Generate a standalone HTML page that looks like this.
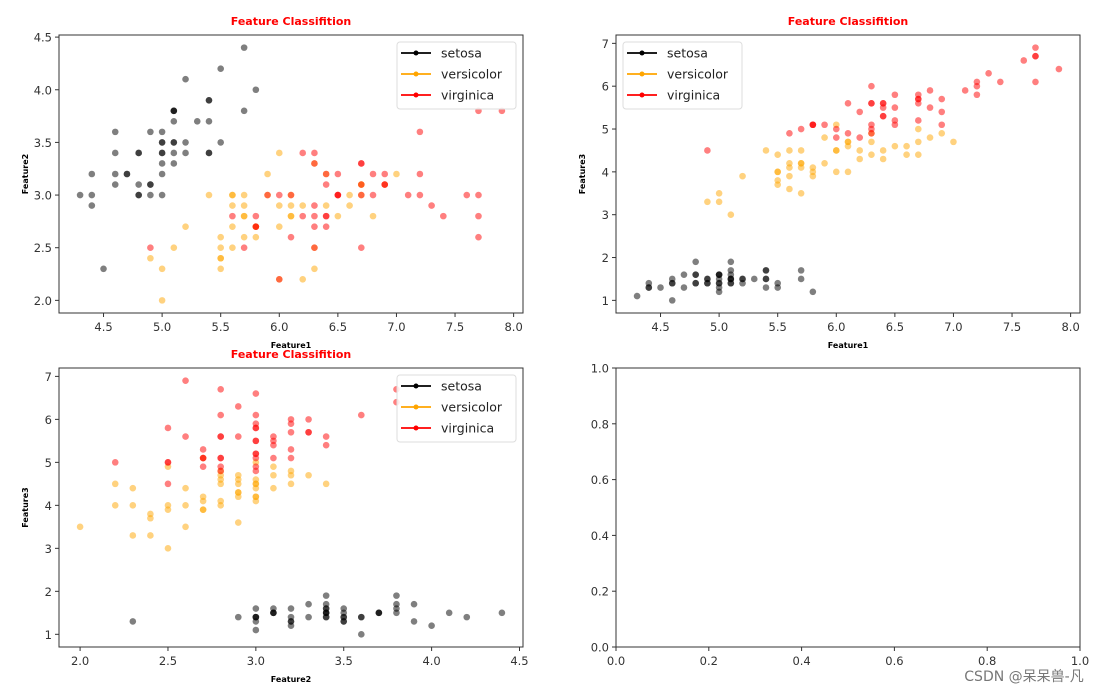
<!DOCTYPE html>
<html><head><meta charset="utf-8"><style>
body{margin:0;background:#fff;}
svg text{font-family:"DejaVu Sans","Liberation Sans",sans-serif;}
</style></head><body>
<svg id="fig" width="1115" height="693" xmlns="http://www.w3.org/2000/svg">
<rect width="1115" height="693" fill="#fff"/>
<text x="1024" y="681" font-size="14" fill="#777" text-anchor="middle" font-family="'Liberation Sans','Noto Sans CJK SC',sans-serif">CSDN @呆呆兽-凡</text>
</svg>
<script>
const speciesNames = ["setosa","versicolor","virginica"];
const speciesColors = ["black","orange","red"];
const setosaSL=[5.1,4.9,4.7,4.6,5.0,5.4,4.6,5.0,4.4,4.9,5.4,4.8,4.8,4.3,5.8,5.7,5.4,5.1,5.7,5.1,5.4,5.1,4.6,5.1,4.8,5.0,5.0,5.2,5.2,4.7,4.8,5.4,5.2,5.5,4.9,5.0,5.5,4.9,4.4,5.1,5.0,4.5,4.4,5.0,5.1,4.8,5.1,4.6,5.3,5.0];
const setosaSW=[3.5,3.0,3.2,3.1,3.6,3.9,3.4,3.4,2.9,3.1,3.7,3.4,3.0,3.0,4.0,4.4,3.9,3.5,3.8,3.8,3.4,3.7,3.6,3.3,3.4,3.0,3.4,3.5,3.4,3.2,3.1,3.4,4.1,4.2,3.1,3.2,3.5,3.6,3.0,3.4,3.5,2.3,3.2,3.5,3.8,3.0,3.8,3.2,3.7,3.3];
const setosaPL=[1.4,1.4,1.3,1.5,1.4,1.7,1.4,1.5,1.4,1.5,1.5,1.6,1.4,1.1,1.2,1.5,1.3,1.4,1.7,1.5,1.7,1.5,1.0,1.7,1.9,1.6,1.6,1.5,1.4,1.6,1.6,1.5,1.5,1.4,1.5,1.2,1.3,1.4,1.3,1.5,1.3,1.3,1.3,1.6,1.9,1.4,1.6,1.4,1.5,1.4];
const versiSL=[7.0,6.4,6.9,5.5,6.5,5.7,6.3,4.9,6.6,5.2,5.0,5.9,6.0,6.1,5.6,6.7,5.6,5.8,6.2,5.6,5.9,6.1,6.3,6.1,6.4,6.6,6.8,6.7,6.0,5.7,5.5,5.5,5.8,6.0,5.4,6.0,6.7,6.3,5.6,5.5,5.5,6.1,5.8,5.0,5.6,5.7,5.7,6.2,5.1,5.7];
const versiSW=[3.2,3.2,3.1,2.3,2.8,2.8,3.3,2.4,2.9,2.7,2.0,3.0,2.2,2.9,2.9,3.1,3.0,2.7,2.2,2.5,3.2,2.8,2.5,2.8,2.9,3.0,2.8,3.0,2.9,2.6,2.4,2.4,2.7,2.7,3.0,3.4,3.1,2.3,3.0,2.5,2.6,3.0,2.6,2.3,2.7,3.0,2.9,2.9,2.5,2.8];
const versiPL=[4.7,4.5,4.9,4.0,4.6,4.5,4.7,3.3,4.6,3.9,3.5,4.2,4.0,4.7,3.6,4.4,4.5,4.1,4.5,3.9,4.8,4.0,4.9,4.7,4.3,4.4,4.8,5.0,4.5,3.5,3.8,3.7,3.9,5.1,4.5,4.5,4.7,4.4,4.1,4.0,4.4,4.6,4.0,3.3,4.2,4.2,4.2,4.3,3.0,4.1];
const virgSL=[6.3,5.8,7.1,6.3,6.5,7.6,4.9,7.3,6.7,7.2,6.5,6.4,6.8,5.7,5.8,6.4,6.5,7.7,7.7,6.0,6.9,5.6,7.7,6.3,6.7,7.2,6.2,6.1,6.4,7.2,7.4,7.9,6.4,6.3,6.1,7.7,6.3,6.4,6.0,6.9,6.7,6.9,5.8,6.8,6.7,6.7,6.3,6.5,6.2,5.9];
const virgSW=[3.3,2.7,3.0,2.9,3.0,3.0,2.5,2.9,2.5,3.6,3.2,2.7,3.0,2.5,2.8,3.2,3.0,3.8,2.6,2.2,3.2,2.8,2.8,2.7,3.3,3.2,2.8,3.0,2.8,3.0,2.8,3.8,2.8,2.8,2.6,3.0,3.4,3.1,3.0,3.1,3.1,3.1,2.7,3.2,3.3,3.0,2.5,3.0,3.4,3.0];
const virgPL=[6.0,5.1,5.9,5.6,5.8,6.6,4.5,6.3,5.8,6.1,5.1,5.3,5.5,5.0,5.1,5.3,5.5,6.7,6.9,5.0,5.7,4.9,6.7,4.9,5.7,6.0,4.8,4.9,5.6,5.8,6.1,6.4,5.6,5.1,5.6,6.1,5.6,5.5,4.8,5.4,5.6,5.1,5.1,5.9,5.7,5.2,5.0,5.2,5.4,5.1];
const ticksSL=[4.5,5.0,5.5,6.0,6.5,7.0,7.5,8.0];
const ticksSW=[2.0,2.5,3.0,3.5,4.0,4.5];
const ticksPL=[1,2,3,4,5,6,7];
const ticksUnit=[0.0,0.2,0.4,0.6,0.8,1.0];

const NS="http://www.w3.org/2000/svg";
const svg=document.getElementById('fig');
function mk(tag,attrs,parent){const e=document.createElementNS(NS,tag);for(const k in attrs)e.setAttribute(k,attrs[k]);(parent||svg).appendChild(e);return e;}
function range(arrs){let mn=Infinity,mx=-Infinity;arrs.forEach(a=>a.forEach(v=>{mn=Math.min(mn,v);mx=Math.max(mx,v);}));const m=(mx-mn)*0.05;return [mn-m,mx+m];}
function fmt(v,d){return v.toFixed(d);}

function panel(idx,L,T,W,H,xs,ys,xr,yr,xt,yt,xd,yd,xl,yl,legendLeft,title){
  const g=mk('g',{});
  
  
  const X=v=>L+(v-xr[0])/(xr[1]-xr[0])*W;
  const Y=v=>T+H-(v-yr[0])/(yr[1]-yr[0])*H;
  if(xs){
    for(let s=0;s<3;s++){
      for(let i=0;i<xs[s].length;i++){
        const c=mk('circle',{cx:X(xs[s][i]),cy:Y(ys[s][i]),r:3.3,fill:speciesColors[s],'fill-opacity':0.5},g);
        
        
      }
    }
  }
  const fr=mk('rect',{x:L,y:T,width:W,height:H,fill:'none',stroke:'#333','stroke-width':1},g);
  
  
  xt.forEach(v=>{const x=X(v);mk('line',{x1:x,x2:x,y1:T+H,y2:T+H+4,stroke:'#333'},g);
    const t=mk('text',{x:x,y:T+H+18,'font-size':11.5,'text-anchor':'middle',fill:'#333'},g);t.textContent=fmt(v,xd);
    
    });
  yt.forEach(v=>{const y=Y(v);mk('line',{x1:L-4,x2:L,y1:y,y2:y,stroke:'#333'},g);
    const t=mk('text',{x:L-7,y:y+4.5,'font-size':11.5,'text-anchor':'end',fill:'#333'},g);t.textContent=fmt(v,yd);
    
    });
  if(title){
    const t=mk('text',{x:L+W/2,y:T-10,'font-size':11,'font-weight':'bold','text-anchor':'middle',fill:'red'},g);t.textContent=title;
    
    
  }
  if(xl){
    const t=mk('text',{x:L+W/2,y:T+H+35,'font-size':8,'font-weight':'bold','text-anchor':'middle',fill:'#000'},g);t.textContent=xl;
    
    
  }
  if(yl){
    const t=mk('text',{x:0,y:0,'font-size':8,'font-weight':'bold','text-anchor':'middle',fill:'#000',transform:`translate(${L-31},${T+H/2}) rotate(-90)`},g);t.textContent=yl;
    
    
  }
  if(legendLeft!==null){
    const lg=mk('g',{},g);
    
    
    mk('rect',{x:legendLeft,y:T+7,width:119,height:67,rx:3,fill:'#fff','fill-opacity':0.85,stroke:'#ddd'},lg);
    for(let s=0;s<3;s++){
      const y=T+18+s*21;
      const e=mk('g',{},lg);
      
      
      mk('line',{x1:legendLeft+4,x2:legendLeft+34,y1:y,y2:y,stroke:speciesColors[s],'stroke-width':1.8},e);
      mk('circle',{cx:legendLeft+19,cy:y,r:2.5,fill:speciesColors[s]},e);
      const t=mk('text',{x:legendLeft+44,y:y+4.5,'font-size':12.5,fill:'#222'},e);t.textContent=speciesNames[s];
    }
  }
}
const SL=[setosaSL,versiSL,virgSL],SW=[setosaSW,versiSW,virgSW],PL=[setosaPL,versiPL,virgPL];
const rSL=range(SL),rSW=range(SW),rPL=range(PL);
const TITLE="Feature Classifition";
panel(1,59,35,464,278,SL,SW,rSL,rSW,ticksSL,ticksSW,1,1,"Feature1","Feature2",397,TITLE);
panel(2,616,35,464,278,SL,PL,rSL,rPL,ticksSL,ticksPL,1,0,"Feature1","Feature3",623,TITLE);
panel(3,59,368,464,279,SW,PL,rSW,rPL,ticksSW,ticksPL,1,0,"Feature2","Feature3",397,TITLE);
panel(4,616,368,464,279,null,null,[0,1],[0,1],ticksUnit,ticksUnit,1,1,null,null,null,null);
</script>
</body></html>
